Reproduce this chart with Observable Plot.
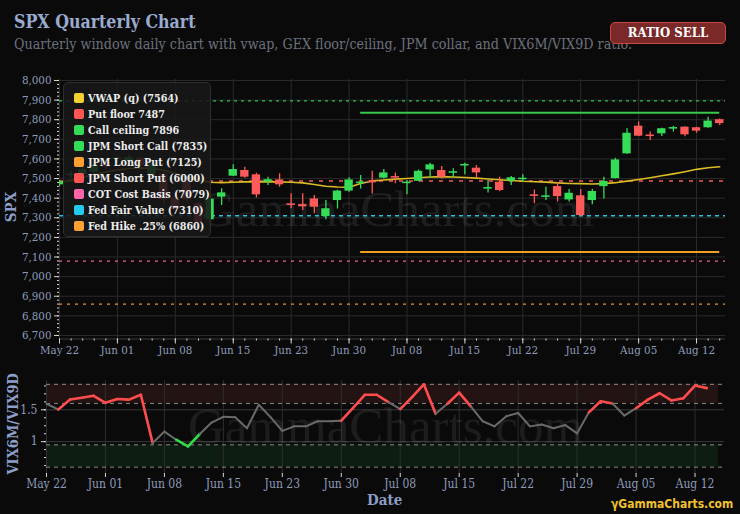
<!DOCTYPE html>
<html>
<head>
<meta charset="utf-8">
<script src="https://cdn.jsdelivr.net/npm/d3@7"></script>
<script src="https://cdn.jsdelivr.net/npm/@observablehq/plot@0.6"></script>
<style>
  html, body { margin: 0; padding: 0; background: #0a0a0a; }
  #root { position: relative; width: 740px; height: 514px; overflow: hidden; background: #0a0a0a;
          font-family: "DejaVu Serif", serif; font-stretch: condensed; }
  .abs { position: absolute; white-space: nowrap; }
  #title { left: 14px; top: 13px; font-size: 17.6px; line-height: 18px; font-weight: bold; color: #9aabd0; }
  #subtitle { left: 14px; top: 37px; font-size: 14.2px; line-height: 14px; color: #6c717d; }
  #badge { left: 610px; top: 22px; width: 114px; height: 20px; background: #7a2828; border: 1.5px solid #c84848;
           border-radius: 5px; color: #fff; font-weight: bold; font-size: 13px; line-height: 20px; text-align: center; }
  #legend { left: 63px; top: 82px; width: 148px; height: 155px; background: rgba(24,24,24,0.88);
            border: 1px solid #2e2e2e; border-radius: 5px; box-sizing: border-box; }
  .lg { position: absolute; left: 10px; height: 16px; line-height: 16px; font-size: 10.7px; font-weight: bold; color: #ececec; }
  .sw { display: inline-block; width: 10px; height: 10px; border-radius: 2px; margin-right: 4px; vertical-align: -1px; }
  .ylab { font-weight: bold; color: #8d9fc8; font-size: 15px; transform: rotate(-90deg); transform-origin: center center; }
  #logo { left: 611px; top: 497px; font-family: "DejaVu Sans", sans-serif; font-weight: bold; font-size: 12px; color: #f0c030; }
  svg { overflow: visible; }
</style>
</head>
<body>
<div id="root">
  <div id="topchart" class="abs" style="left:0;top:60px;"></div>
  <div id="bottomchart" class="abs" style="left:0;top:370px;"></div>
  <div id="title" class="abs">SPX Quarterly Chart</div>
  <div id="subtitle" class="abs">Quarterly window daily chart with vwap, GEX floor/ceiling, JPM collar, and VIX6M/VIX9D ratio.</div>
  <div id="badge" class="abs">RATIO SELL</div>
  <div id="legend" class="abs"></div>
  <div class="abs ylab" style="left:-6px;top:198px;width:34px;text-align:center;">SPX</div>
  <div class="abs ylab" style="left:-38px;top:416px;width:100px;text-align:center;font-size:14.5px;">VIX6M/VIX9D</div>
  <div class="abs" style="left:367px;top:491px;font-weight:bold;color:#8d9fc8;font-size:15px;">Date</div>
  <div id="logo" class="abs">γGammaCharts.com</div>
</div>
<script>
// ---------- DATA ----------
const tickIdx = [0, 5, 10, 15, 20, 25, 30, 35, 40, 45, 50, 55];
const tickLabels = ["May 22", "Jun 01", "Jun 08", "Jun 15", "Jun 23", "Jun 30", "Jul 08", "Jul 15", "Jul 22", "Jul 29", "Aug 05", "Aug 12"];

const open  = [7468,7515,7520,7532,7580,7597,7588,7602,7516,7524,7402,7480,7372,7290,7405,7512,7541,7519,7482,7493,7366,7367,7396,7306,7388,7436,7474,7487,7502,7510,7474,7486,7544,7541,7527,7564,7553,7446,7481,7487,7494,7417,7404,7459,7391,7412,7388,7459,7500,7626,7767,7718,7728,7752,7762,7759,7759,7800];
const high  = [7490,7535,7556,7585,7592,7615,7618,7611,7580,7530,7412,7498,7380,7405,7448,7571,7558,7527,7507,7524,7423,7423,7413,7388,7440,7504,7515,7537,7546,7528,7490,7544,7578,7561,7550,7578,7566,7490,7507,7510,7520,7442,7456,7478,7444,7444,7444,7507,7604,7754,7788,7737,7757,7767,7764,7762,7813,7804];
const low   = [7460,7500,7512,7525,7548,7582,7584,7552,7505,7368,7330,7380,7262,7255,7362,7510,7502,7401,7464,7456,7347,7337,7320,7290,7345,7430,7447,7421,7498,7474,7417,7484,7502,7498,7504,7520,7502,7426,7434,7464,7481,7371,7388,7380,7380,7308,7366,7396,7498,7624,7714,7694,7714,7737,7713,7731,7757,7770];
const close = [7482,7520,7546,7574,7560,7602,7606,7566,7574,7390,7342,7392,7276,7395,7427,7546,7507,7417,7494,7468,7363,7356,7354,7346,7436,7493,7478,7478,7529,7502,7480,7537,7570,7507,7531,7567,7529,7449,7439,7504,7497,7409,7407,7408,7425,7311,7434,7485,7595,7731,7716,7714,7754,7755,7723,7742,7793,7780];
const vwap  = [7480,7492,7506,7520,7533,7544,7551,7554,7552,7542,7526,7508,7492,7481,7479,7481,7483,7483,7484,7483,7481,7478,7470,7461,7457,7456,7475,7488,7493,7497,7500,7504,7508,7510,7508,7505,7502,7498,7494,7490,7486,7484,7482,7478,7475,7474,7472,7474,7479,7487,7495,7504,7514,7524,7535,7547,7555,7560];

const levelNames  = ["VWAP (q) (7564)", "Put floor 7487", "Call ceiling 7896", "JPM Short Call (7835)", "JPM Long Put (7125)", "JPM Short Put (6000)", "COT Cost Basis (7079)", "Fed Fair Value (7310)", "Fed Hike .25% (6860)"];
const putFloor = 7487, callCeiling = 7896, jpmShortCall = 7835, jpmLongPut = 7125, jpmShortPut = 6000, cotBasis = 7079, fedFair = 7310, fedHike = 6860;
const collarStart = 26, collarEnd = 57;

const ratio = [1.595,1.505,1.662,1.69,1.72,1.61,1.67,1.66,1.736,0.98,1.158,1.03,0.926,1.12,1.30,1.39,1.385,1.21,1.58,1.385,1.17,1.24,1.24,1.32,1.32,1.33,1.53,1.736,1.736,1.62,1.51,1.70,1.90,1.437,1.595,1.77,1.55,1.32,1.24,1.40,1.45,1.24,1.27,1.21,1.26,1.13,1.46,1.635,1.60,1.41,1.525,1.66,1.76,1.647,1.68,1.88,1.84];
// signal state of each segment (from point i to i+1): r = sell zone, g = buy zone, n = neutral
const segState = "nrrrrrrrrnnggnnnnnnnnnnnnrrrrnrrrnrrnnnnnnnnnnrrnnrrrrrr";
const sellZone = [1.6, 1.9];
const buyZone = [0.6, 0.95];

(function () {
// ---------- CHART ----------
const FONT = '"DejaVu Serif", serif';
const tickFmt = d => tickLabels[tickIdx.indexOf(d)] ?? "";
const candles = open.map((o, i) => ({i, o, h: high[i], l: low[i], c: close[i], up: close[i] >= o}));
const GREEN = "#35dc58", RED = "#ff5a5a";

const topPlot = Plot.plot({
  width: 740, height: 300,
  marginLeft: 59, marginRight: 15, marginTop: 19, marginBottom: 21.5,
  style: {background: "transparent", color: "#8d9cba", fontFamily: FONT, fontSize: "11.5px", fontStretch: "condensed"},
  x: {domain: [0, 57.5], label: null},
  y: {domain: [6682, 8005], label: null},
  marks: [
    Plot.ruleY(d3.range(6700, 8001, 100), {stroke: "#2b2b2b", strokeWidth: 1}),
    Plot.ruleX(tickIdx, {stroke: "#2b2b2b", strokeWidth: 1}),
    Plot.text(["GammaCharts.com"], {frameAnchor: "middle", text: d => d, fill: "#ffffff", fillOpacity: 0.08, fontSize: 51, fontFamily: "Liberation Serif", dx: 4}),
    Plot.ruleY([callCeiling], {stroke: "#2fc24f", strokeDasharray: "3,4", strokeWidth: 1.3}),
    Plot.ruleY([putFloor], {stroke: "#b84444", strokeDasharray: "4,6", strokeWidth: 2}),
    Plot.ruleY([fedFair], {stroke: "#22c4e8", strokeDasharray: "4,4", strokeWidth: 1.5}),
    Plot.ruleY([cotBasis], {stroke: "#e8609c", strokeDasharray: "3,5", strokeWidth: 1.3}),
    Plot.ruleY([fedHike], {stroke: "#e8922c", strokeDasharray: "3,5", strokeWidth: 1.3}),
    Plot.ruleY([jpmShortCall], {x1: collarStart, x2: collarEnd, stroke: "#36c94a", strokeWidth: 2}),
    Plot.ruleY([jpmLongPut], {x1: collarStart, x2: collarEnd, stroke: "#f0a020", strokeWidth: 2}),
    Plot.ruleY([jpmShortPut], {x1: collarStart, x2: collarEnd, stroke: RED, strokeWidth: 2, clip: true}),
    Plot.line(vwap, {x: (d, i) => i, y: d => d, stroke: "#dcbc26", strokeWidth: 1.6, clip: true}),
    Plot.ruleX(candles, {x: "i", y1: "l", y2: "h", stroke: d => d.up ? GREEN : RED, strokeWidth: 1.3, clip: true}),
    Plot.rect(candles, {
      x1: d => d.i - 0.36, x2: d => d.i + 0.36,
      y1: d => Math.min(d.o, d.c), y2: d => Math.max(Math.max(d.o, d.c), Math.min(d.o, d.c) + 8),
      fill: d => d.up ? GREEN : RED, clip: true
    }),
    Plot.ruleY([6682], {stroke: "#3a3a3a"}),
    Plot.axisY(d3.range(6700, 8001, 20), {tickSize: 2, text: null, stroke: "#d8d8d8", label: null}),
    Plot.axisY(d3.range(6700, 8001, 100), {tickSize: 5, stroke: "#d8d8d8", tickFormat: d3.format(","), tickPadding: 3, label: null}),
    Plot.axisX(d3.range(0, 58, 1), {tickSize: 2, text: null, stroke: "#d8d8d8", label: null}),
    Plot.axisX(tickIdx, {tickSize: 5, stroke: "#d8d8d8", tickFormat: tickFmt, tickPadding: 2, label: null})
  ]
});
document.getElementById("topchart").appendChild(topPlot);

const segs = segState.split("").map((s, i) => ({x1: i, y1: ratio[i], x2: i + 1, y2: ratio[i + 1], s})).filter(d => d.y2 !== undefined);
const segColor = {r: "#ff4d4d", g: "#33dd44", n: "#6a6a6a"};
const segWidth = {r: 2.6, g: 2.6, n: 2};

const bottomPlot = Plot.plot({
  width: 740, height: 144,
  marginLeft: 46, marginRight: 16, marginTop: 10, marginBottom: 41,
  style: {background: "transparent", color: "#8d9cba", fontFamily: FONT, fontSize: "12px", fontStretch: "condensed"},
  x: {domain: [0, 57.5], label: null},
  y: {domain: [0.5, 1.96], label: null},
  marks: [
    Plot.rect([sellZone], {x1: 0, x2: 57, y1: d => d[0], y2: d => d[1], fill: "#241313"}),
    Plot.rect([buyZone], {x1: 0, x2: 57, y1: d => d[0], y2: d => d[1], fill: "#0e1d12"}),
    Plot.ruleY([1, 1.5], {stroke: "#383838"}),
    Plot.ruleX(tickIdx, {stroke: "#2e2e2e"}),
    Plot.ruleY([...sellZone, ...buyZone], {stroke: "#8a8a8a", strokeDasharray: "4,4", strokeWidth: 1}),
    Plot.text(["GammaCharts.com"], {frameAnchor: "middle", text: d => d, fill: "#ffffff", fillOpacity: 0.08, fontSize: 51, fontFamily: "Liberation Serif"}),
    Plot.link(segs, {x1: "x1", y1: "y1", x2: "x2", y2: "y2", stroke: d => segColor[d.s], strokeWidth: d => segWidth[d.s], strokeLinecap: "round"}),
    Plot.axisY(d3.range(0.625, 1.9, 0.125), {tickSize: 2, text: null, stroke: "#d8d8d8", label: null}),
    Plot.axisY([1, 1.5], {tickSize: 5, stroke: "#d8d8d8", tickFormat: d => String(d), label: null}),
    Plot.axisX(tickIdx, {tickSize: 4, stroke: "#d8d8d8", tickFormat: tickFmt, tickPadding: 2, label: null})
  ]
});
document.getElementById("bottomchart").appendChild(bottomPlot);

// legend
const swatches = ["#f5d130", "#ff5555", "#35dc58", "#35dc58", "#ffa033", "#ff5555", "#ff66aa", "#22ccee", "#ffa033"];
const lg = document.getElementById("legend");
levelNames.forEach((name, k) => {
  const row = document.createElement("div");
  row.className = "lg";
  row.style.top = (8 + 16 * k) + "px";
  row.innerHTML = `<span class="sw" style="background:${swatches[k]}"></span>${name}`;
  lg.appendChild(row);
});
})();
</script>
</body>
</html>
